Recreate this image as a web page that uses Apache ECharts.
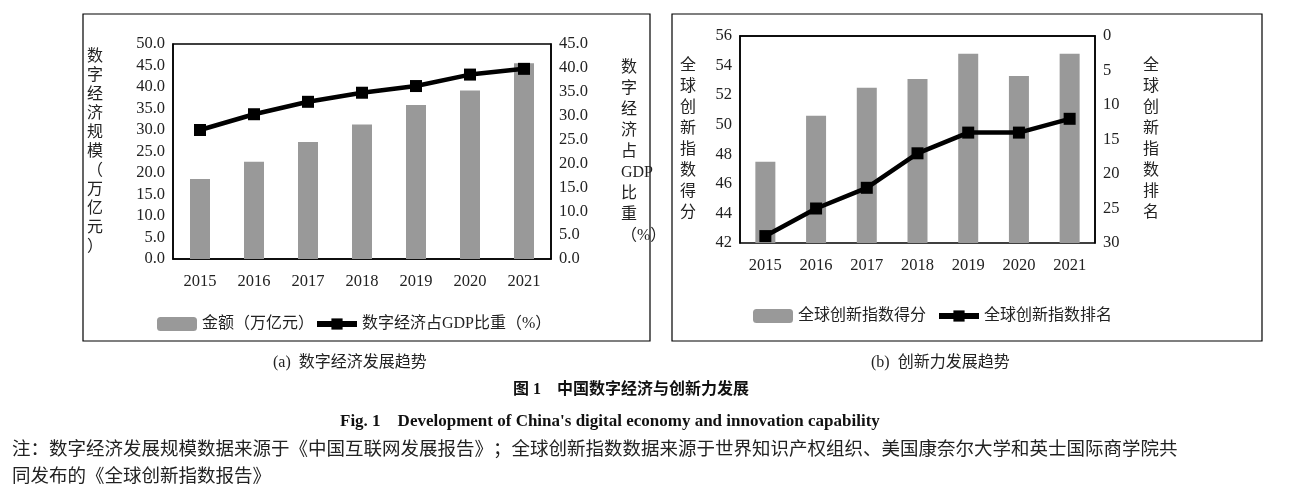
<!DOCTYPE html>
<html>
<head>
<meta charset="utf-8">
<script src="https://cdn.jsdelivr.net/npm/echarts@6/dist/echarts.min.js"></script>
<style>
  html, body { margin: 0; padding: 0; background: #fff; }
  #chart { width: 1300px; height: 499px; }
</style>
</head>
<body>
<div id="chart"></div>
<script>
var years = ['2015', '2016', '2017', '2018', '2019', '2020', '2021'];
var scale = [18.6, 22.6, 27.2, 31.3, 35.8, 39.2, 45.5];
var gdpShare = [27.0, 30.3, 32.9, 34.8, 36.2, 38.6, 39.8];
var giiScore = [47.5, 50.6, 52.5, 53.1, 54.8, 53.3, 54.8];
var giiRank = [29, 25, 22, 17, 14, 14, 12];

var FONT = '"Liberation Serif", "Noto Sans CJK SC", serif';
var myChart = echarts.init(document.getElementById('chart'));

function axisBase() {
    return {
        axisLine: { show: true, lineStyle: { color: '#000', width: 1.5 } },
        axisTick: { show: false },
        splitLine: { show: false },
        axisLabel: { color: '#222', fontSize: 16.5, fontFamily: FONT }
    };
}
function vertName(s) { return s.split('').join('\n'); }
function fix1(v) { return v.toFixed(1); }

var legendText = { fontSize: 16, color: '#222', fontFamily: FONT };

var option = {
    backgroundColor: '#fff',
    textStyle: { fontFamily: FONT },
    animation: false,
    legend: [{
        data: ['金额（万亿元）', { name: '数字经济占GDP比重（%）', itemStyle: { borderWidth: 0 } }],
        left: 152, top: 311, itemGap: 0, itemWidth: 40, itemHeight: 14,
        lineStyle: { width: 6 },
        textStyle: legendText
    }, {
        data: ['全球创新指数得分', '全球创新指数排名'],
        left: 748, top: 303, itemGap: 10, itemWidth: 40, itemHeight: 14,
        lineStyle: { width: 6 },
        textStyle: legendText
    }],
    grid: [
        { left: 173, top: 44, width: 378, height: 215, show: true, borderColor: '#000', borderWidth: 1.5 },
        { left: 740, top: 36, width: 355, height: 207, show: true, borderColor: '#000', borderWidth: 1.5 }
    ],
    xAxis: [
        Object.assign(axisBase(), { type: 'category', data: years, gridIndex: 0,
            axisLabel: { color: '#222', fontSize: 16.5, fontFamily: FONT, margin: 14 } }),
        Object.assign(axisBase(), { type: 'category', data: years, gridIndex: 1,
            axisLabel: { color: '#222', fontSize: 16.5, fontFamily: FONT, margin: 14 } })
    ],
    yAxis: [
        Object.assign(axisBase(), { type: 'value', gridIndex: 0, min: 0, max: 50, interval: 5,
            axisLabel: { color: '#222', fontSize: 16.5, fontFamily: FONT, formatter: fix1 },
            name: vertName('数字经济规模（万亿元）'), nameLocation: 'middle', nameGap: 70, nameRotate: 0,
            nameTextStyle: { fontSize: 16, color: '#222', lineHeight: 19, fontFamily: FONT } }),
        Object.assign(axisBase(), { type: 'value', gridIndex: 0, position: 'right', min: 0, max: 45, interval: 5,
            axisLabel: { color: '#222', fontSize: 16.5, fontFamily: FONT, formatter: fix1 },
            name: '数\n字\n经\n济\n占\nGDP\n比\n重\n（%）', nameLocation: 'middle', nameGap: 70, nameRotate: 0,
            nameTextStyle: { fontSize: 16, color: '#222', lineHeight: 21, fontFamily: FONT } }),
        Object.assign(axisBase(), { type: 'value', gridIndex: 1, min: 42, max: 56, interval: 2,
            name: vertName('全球创新指数得分'), nameLocation: 'middle', nameGap: 44, nameRotate: 0,
            nameTextStyle: { fontSize: 16, color: '#222', lineHeight: 21, fontFamily: FONT } }),
        Object.assign(axisBase(), { type: 'value', gridIndex: 1, position: 'right', inverse: true, min: 0, max: 30, interval: 5,
            name: vertName('全球创新指数排名'), nameLocation: 'middle', nameGap: 48, nameRotate: 0,
            nameTextStyle: { fontSize: 16, color: '#222', lineHeight: 21, fontFamily: FONT } })
    ],
    series: [
        { name: '金额（万亿元）', type: 'bar', xAxisIndex: 0, yAxisIndex: 0, data: scale,
          barWidth: 20, itemStyle: { color: '#999' } },
        { name: '数字经济占GDP比重（%）', type: 'line', xAxisIndex: 0, yAxisIndex: 1, data: gdpShare,
          symbol: 'rect', symbolSize: 12, lineStyle: { color: '#000', width: 4.5 }, itemStyle: { color: '#000' } },
        { name: '全球创新指数得分', type: 'bar', xAxisIndex: 1, yAxisIndex: 2, data: giiScore,
          barWidth: 20, itemStyle: { color: '#999' } },
        { name: '全球创新指数排名', type: 'line', xAxisIndex: 1, yAxisIndex: 3, data: giiRank,
          symbol: 'rect', symbolSize: 12, lineStyle: { color: '#000', width: 4.5 }, itemStyle: { color: '#000' } }
    ],
    graphic: [
        { type: 'rect', shape: { x: 83, y: 14, width: 567, height: 327 }, style: { fill: 'none', stroke: '#000', lineWidth: 1.2 } },
        { type: 'rect', shape: { x: 672, y: 14, width: 590, height: 327 }, style: { fill: 'none', stroke: '#000', lineWidth: 1.2 } },
        { type: 'text', left: 273, top: 355, style: { text: '(a)  数字经济发展趋势', fontSize: 16, fill: '#222', fontFamily: FONT } },
        { type: 'text', left: 871, top: 355, style: { text: '(b)  创新力发展趋势', fontSize: 16, fill: '#222', fontFamily: FONT } },
        { type: 'text', left: 513, top: 382, style: { text: '图 1    中国数字经济与创新力发展', fontSize: 16, fontWeight: 'bold', fill: '#111', fontFamily: FONT } },
        { type: 'text', left: 340, top: 413, style: { text: 'Fig. 1    Development of China\'s digital economy and innovation capability', fontSize: 17, fontWeight: 'bold', fill: '#111', fontFamily: FONT } },
        { type: 'text', left: 12, top: 441, style: { text: '注：数字经济发展规模数据来源于《中国互联网发展报告》；全球创新指数数据来源于世界知识产权组织、美国康奈尔大学和英士国际商学院共', fontSize: 18.5, fill: '#222', fontFamily: FONT } },
        { type: 'text', left: 12, top: 468, style: { text: '同发布的《全球创新指数报告》', fontSize: 18.5, fill: '#222', fontFamily: FONT } }
    ]
};

myChart.setOption(option);
</script>
</body>
</html>
